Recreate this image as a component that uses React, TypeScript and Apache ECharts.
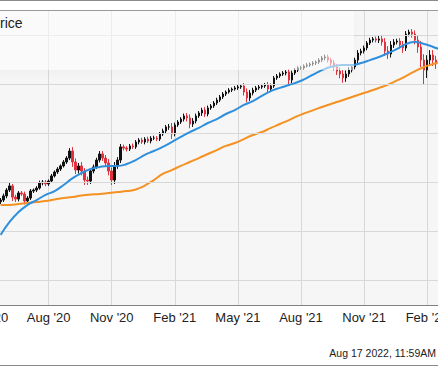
import React, { useEffect, useRef } from "react";
import * as echarts from "echarts";

// ---------- data ----------
const START_DATE = "2020-05-01";
const HOLIDAYS = [
  "2020-05-25", "2020-07-03", "2020-09-07", "2020-11-26", "2020-12-25",
  "2021-01-01", "2021-01-18", "2021-02-15", "2021-04-02", "2021-05-31",
  "2021-07-05", "2021-09-06", "2021-11-25", "2021-12-24", "2022-01-17",
  "2022-02-21", "2022-04-15",
];
const DAYS_PER_CANDLE = 3;
const LEAD_EMPTY = 5; // candles before the first visible one (May 2020)
const FIRST_OPEN = 3400;

const closes = [
  3408, 3429, 3459, 3480, 3423, 3413, 3444, 3439, 3403, 3418,
  3454, 3459, 3469, 3495, 3500, 3490, 3505, 3531, 3551, 3566,
  3582, 3602, 3622, 3658, 3602, 3561, 3582, 3556, 3510, 3505,
  3556, 3577, 3612, 3643, 3622, 3597, 3556, 3510, 3582, 3612,
  3679, 3673, 3668, 3684, 3679, 3704, 3714, 3704, 3719, 3709,
  3724, 3724, 3719, 3745, 3760, 3781, 3781, 3745, 3791, 3806,
  3821, 3837, 3827, 3796, 3811, 3837, 3852, 3867, 3847, 3878,
  3888, 3903, 3918, 3934, 3949, 3959, 3969, 3974, 3980, 3985,
  3990, 3959, 3929, 3954, 3969, 3980, 3985, 3990, 3995, 3974,
  3990, 4031, 4041, 4051, 4056, 4061, 4020, 4056, 4071, 4082,
  4082, 4092, 4097, 4102, 4107, 4112, 4122, 4133, 4138, 4122,
  4107, 4087, 4066, 4051, 4031, 4051, 4071, 4087, 4122, 4158,
  4168, 4184, 4209, 4224, 4230, 4224, 4230, 4214, 4168, 4153,
  4199, 4214, 4219, 4199, 4184, 4255, 4265, 4255, 4224, 4189,
  4122, 4071, 4122, 4148, 4122, 4102, 4107, 4102, 4097,
];
// how far each candle's high / low reach beyond its body (price units)
const upperWick = [
  10, 12, 10, 15, 10, 12, 10, 10, 12, 10,
  10, 8, 10, 12, 10, 10, 8, 10, 8, 10,
  8, 10, 10, 15, 20, 18, 15, 20, 15, 18,
  15, 12, 12, 15, 15, 15, 20, 18, 20, 15,
  15, 12, 10, 10, 12, 10, 10, 12, 10, 12,
  10, 12, 10, 10, 12, 10, 15, 20, 12, 10,
  10, 12, 15, 18, 15, 12, 10, 12, 15, 12,
  10, 10, 12, 10, 10, 8, 10, 8, 10, 10,
  10, 15, 18, 15, 12, 10, 10, 8, 10, 15,
  12, 10, 10, 8, 10, 10, 15, 12, 10, 8,
  10, 8, 10, 8, 10, 8, 10, 10, 12, 12,
  12, 15, 15, 18, 20, 18, 15, 12, 12, 15,
  12, 12, 10, 12, 10, 12, 15, 15, 20, 25,
  20, 15, 12, 15, 20, 15, 12, 15, 18, 22,
  30, 30, 25, 25, 25, 22, 20, 20, 20,
];
const lowerWick = [
  12, 10, 12, 10, 20, 15, 12, 10, 18, 12,
  10, 10, 10, 8, 12, 12, 10, 10, 8, 10,
  10, 8, 10, 10, 25, 20, 18, 22, 25, 20,
  15, 12, 10, 12, 15, 18, 22, 25, 20, 15,
  15, 12, 12, 10, 10, 10, 12, 10, 12, 10,
  12, 10, 10, 10, 10, 12, 15, 25, 12, 10,
  10, 12, 18, 22, 15, 12, 10, 15, 15, 12,
  10, 10, 10, 10, 10, 10, 8, 10, 8, 10,
  10, 18, 22, 15, 12, 10, 10, 10, 10, 18,
  12, 10, 10, 10, 10, 12, 22, 15, 10, 10,
  10, 10, 8, 10, 10, 10, 10, 10, 12, 12,
  15, 18, 20, 22, 25, 20, 15, 12, 12, 15,
  12, 12, 12, 10, 12, 12, 15, 18, 25, 25,
  18, 15, 12, 18, 25, 15, 12, 18, 22, 30,
  35, 75, 40, 30, 30, 25, 25, 20, 20,
];

const MA_STEP = 3; // one moving-average reading every 3 candles
const ma50 = [
  3230, 3296, 3347, 3383, 3408, 3434, 3454, 3485, 3520, 3546,
  3566, 3577, 3582, 3582, 3592, 3612, 3638, 3658, 3679, 3704,
  3730, 3755, 3776, 3801, 3821, 3847, 3867, 3893, 3913, 3939,
  3964, 3980, 3995, 4010, 4031, 4056, 4077, 4092, 4097, 4097,
  4107, 4122, 4138, 4158, 4179, 4204, 4214, 4204, 4189, 4173,
];
const ma200 = [
  3383, 3383, 3388, 3393, 3398, 3403, 3411, 3418, 3423, 3431,
  3436, 3439, 3444, 3449, 3454, 3462, 3482, 3510, 3541, 3561,
  3582, 3602, 3622, 3643, 3663, 3684, 3699, 3719, 3740, 3755,
  3776, 3796, 3816, 3837, 3855, 3872, 3888, 3903, 3918, 3934,
  3949, 3964, 3980, 3997, 4018, 4041, 4066, 4087, 4102, 4117,
];

const priceGridLines = [3000, 3250, 3500, 3750, 4000, 4250];
const Y_MIN = 2872.45;
const Y_MAX = 4377.55;
const LABEL_MONTHS = [1, 4, 7, 10]; // Feb, May, Aug, Nov
const MONTH_NAMES = ["Jan", "Feb", "Mar", "Apr", "May", "Jun", "Jul", "Aug", "Sep", "Oct", "Nov", "Dec"];
const LEGEND_TEXT = "Price";
const TIMESTAMP = "Aug 17 2022, 11:59AM";

// ---------- layout ----------
const SHIFT = 40; // chart canvas starts 40px left of the window
const CHART_W = 560;
const CHART_H = 366;
const PX_PER_DAY = 379 / 378;
const FONT = "'Liberation Sans', Arial, Helvetica, sans-serif";

function buildTradingDays(count: number): Date[] {
  const hol = new Set(HOLIDAYS);
  const out: Date[] = [];
  const d = new Date(START_DATE + "T12:00:00Z");
  while (out.length < count) {
    const wd = d.getUTCDay();
    const iso = d.toISOString().slice(0, 10);
    if (wd !== 0 && wd !== 6 && !hol.has(iso)) out.push(new Date(d.getTime()));
    d.setUTCDate(d.getUTCDate() + 1);
  }
  return out;
}

export default function App() {
  const ref = useRef<HTMLDivElement | null>(null);

  useEffect(() => {
    if (!ref.current) return;
    const chart = echarts.init(ref.current, undefined, { renderer: "svg" });

    const N = LEAD_EMPTY + closes.length;
    const days = buildTradingDays(N * DAYS_PER_CANDLE);
    const categories: string[] = [];
    const labels: string[] = [];
    for (let k = 0; k < N; k++) {
      const mid = days[k * DAYS_PER_CANDLE + 1];
      categories.push(mid.toISOString().slice(0, 10));
      let lab = "";
      for (let j = k * DAYS_PER_CANDLE; j < (k + 1) * DAYS_PER_CANDLE; j++) {
        const m = days[j].getUTCMonth();
        const isFirst = j === 0 || days[j - 1].getUTCMonth() !== m;
        if (isFirst && LABEL_MONTHS.includes(m)) {
          lab = `${MONTH_NAMES[m]} '${String(days[j].getUTCFullYear()).slice(2)}`;
        }
      }
      labels.push(lab);
    }
    const showAt = (i: number) => labels[i] !== "";

    const candles = closes.map((c, i) => {
      const o = i === 0 ? FIRST_OPEN : closes[i - 1];
      return [LEAD_EMPTY + i, o, c, Math.min(o, c) - lowerWick[i], Math.max(o, c) + upperWick[i]];
    });
    const ma50Data = ma50.map((v, i) => [LEAD_EMPTY + i * MA_STEP, v]);
    const ma200Data = ma200.map((v, i) => [LEAD_EMPTY + i * MA_STEP, v]);

    const gridLeft = SHIFT - 15 * PX_PER_DAY;
    const gridWidth = (N - 1) * DAYS_PER_CANDLE * PX_PER_DAY;

    chart.setOption({
      animation: false,
      backgroundColor: "#ffffff",
      grid: {
        left: gridLeft,
        top: 10,
        width: gridWidth,
        height: 295,
        show: true,
        backgroundColor: "#f6f6f6",
        borderWidth: 0,
      },
      xAxis: {
        type: "category",
        data: categories,
        boundaryGap: false,
        axisLine: { show: true, lineStyle: { color: "#808080", width: 1 } },
        axisTick: { show: false },
        axisLabel: {
          interval: (i: number) => showAt(i),
          formatter: (_v: string, i: number) => labels[i],
          color: "#222",
          fontSize: 13,
          fontFamily: FONT,
          margin: 6,
        },
        splitLine: {
          show: true,
          interval: (i: number) => showAt(i),
          lineStyle: { color: "#d8d8d8", width: 1 },
        },
      },
      yAxis: {
        type: "value",
        min: Y_MIN,
        max: Y_MAX,
        show: false,
        splitLine: { show: false },
      },
      series: [
        {
          type: "line",
          z: 1,
          silent: true,
          data: priceGridLines.map((v) => [0, v]),
          symbol: "none",
          lineStyle: { opacity: 0 },
          markLine: {
            silent: true,
            symbol: ["none", "none"],
            label: { show: false },
            lineStyle: { color: "#d8d8d8", width: 1, type: "solid" },
            data: priceGridLines.map((v) => ({ yAxis: v })),
          },
        },
        {
          type: "candlestick",
          z: 3,
          encode: { x: 0, y: [1, 2, 3, 4] },
          data: candles,
          barWidth: 2,
          itemStyle: {
            color: "#111111",
            color0: "#e0313c",
            borderColor: "#111111",
            borderColor0: "#e0313c",
            borderWidth: 1,
          },
        },
        {
          type: "line",
          z: 4,
          data: ma200Data,
          smooth: true,
          showSymbol: false,
          symbol: "none",
          lineStyle: { color: "#f59122", width: 2 },
        },
        {
          type: "line",
          z: 5,
          data: ma50Data,
          smooth: true,
          showSymbol: false,
          symbol: "none",
          lineStyle: { color: "#2f8fdc", width: 2 },
        },
      ],
      graphic: [
        { type: "line", shape: { x1: 0, y1: 0.5, x2: CHART_W, y2: 0.5 }, style: { stroke: "#8a8a8a", lineWidth: 1 } },
        {
          // translucent legend panel (its right part fades the marks behind it)
          type: "rect",
          z: 20,
          silent: true,
          shape: { x: 0, y: 11, width: SHIFT + 354, height: 59 },
          style: {
            fill: "rgba(255,255,255,0.55)",
            shadowBlur: 8,
            shadowOffsetY: 4,
            shadowColor: "rgba(0,0,0,0.05)",
          },
        },
        { type: "line", shape: { x1: 0, y1: 10.5, x2: CHART_W, y2: 10.5 }, style: { stroke: "#9a9a9a", lineWidth: 1 }, z: 21 },
        { type: "line", shape: { x1: 0, y1: 365.5, x2: CHART_W, y2: 365.5 }, style: { stroke: "#8a8a8a", lineWidth: 1 } },
        {
          type: "text",
          x: SHIFT - 9.3,
          y: 23,
          z: 22,
          style: { text: LEGEND_TEXT, fill: "#222", font: `14px ${FONT}`, textVerticalAlign: "middle", verticalAlign: "middle" },
        },
        {
          type: "text",
          x: SHIFT + 436,
          y: 353,
          z: 10,
          style: { text: TIMESTAMP, fill: "#222", font: `10.5px ${FONT}`, align: "right", textAlign: "right", verticalAlign: "middle", textVerticalAlign: "middle" },
        },
      ],
    });

    return () => chart.dispose();
  }, []);

  return (
    <div style={{ position: "fixed", left: 0, top: 0, width: 438, height: 366, overflow: "hidden", background: "#fff" }}>
      <div ref={ref} style={{ position: "absolute", left: -SHIFT, top: 0, width: CHART_W, height: CHART_H }} />
    </div>
  );
}
